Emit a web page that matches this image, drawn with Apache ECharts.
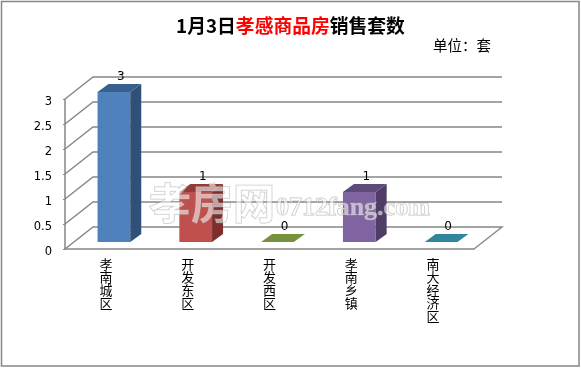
<!DOCTYPE html>
<html>
<head>
<meta charset="utf-8">
<style>
  html, body { margin: 0; padding: 0; background: #fff; }
  #main { width: 581px; height: 368px; }
</style>
<script src="https://cdn.jsdelivr.net/npm/echarts@6/dist/echarts.min.js"></script>
</head>
<body>
<div id="main"></div>
<script>
const categories = ['孝南城区', '开发东区', '开发西区', '孝南乡镇', '南大经济区'];
const salesCounts = [3, 1, 0, 1, 0];
const wallTicks = [0, 0.5, 1, 1.5, 2, 2.5, 3];

const frontColors = ['#4f81bd', '#c0504d', '#9bbb59', '#8064a2', '#4bacc6'];
const sideColors = ['#2f5078', '#7d2f2d', '#5f7530', '#4f3d68', '#276a7c'];
const topColors = ['#38608f', '#933b38', '#76923c', '#5f4a7c', '#31859c'];

const lineGrey = '#868686';
const cjkFont = '"Noto Sans CJK SC", sans-serif';
// 3D look: how far the back wall and the bars sit from the front plane
const wallDepth = [28, -22];
const barInset = [8, -7];
const barDepth = [11, -8];

const myChart = echarts.init(document.getElementById('main'));

const renderWall = (params, api) => {
    const cs = params.coordSys;
    const y = api.coord([0, api.value(1)])[1];
    const backY = y + wallDepth[1];
    const left = cs.x;
    const right = cs.x + cs.width;
    const points = [[left, y], [left + wallDepth[0], backY], [right + wallDepth[0], backY]];
    if (api.value(1) === 0) {
        points.push([right, y]);
    }
    return {
        type: 'polyline',
        shape: { points: points },
        style: { stroke: lineGrey, lineWidth: 1.4, fill: null }
    };
};

const renderBar = (params, api) => {
    const idx = params.dataIndex;
    const width = api.size([1, 0])[0] * 0.4;
    const base = api.coord([api.value(0), 0]);
    const head = api.coord([api.value(0), api.value(1)]);
    const x0 = base[0] - width / 2 + barInset[0];
    const x1 = x0 + width;
    const yTop = head[1] + barInset[1];
    const yBottom = base[1] + barInset[1];
    const dx = barDepth[0];
    const dy = barDepth[1];
    return {
        type: 'group',
        children: [
            {
                type: 'rect',
                shape: { x: x0, y: yTop, width: width, height: yBottom - yTop },
                style: { fill: frontColors[idx] }
            },
            {
                type: 'polygon',
                shape: { points: [[x1, yTop], [x1 + dx, yTop + dy], [x1 + dx, yBottom + dy], [x1, yBottom]] },
                style: { fill: sideColors[idx] }
            },
            {
                type: 'polygon',
                shape: { points: [[x0, yTop], [x0 + dx, yTop + dy], [x1 + dx, yTop + dy], [x1, yTop]] },
                style: { fill: topColors[idx] }
            },
            {
                type: 'text',
                style: {
                    text: String(api.value(1)),
                    x: (x0 + x1) / 2 + 7,
                    y: yTop - 15,
                    align: 'center',
                    verticalAlign: 'middle',
                    fill: '#000',
                    font: '12px "DejaVu Sans", sans-serif'
                }
            }
        ]
    };
};

const option = {
    backgroundColor: '#fff',
    animation: false,
    title: [
        {
            text: '{k|1月3日}{r|孝感商品房}{k|销售套数}',
            left: 'center',
            top: 11,
            textStyle: {
                rich: {
                    k: { fontFamily: cjkFont, fontSize: 18.8, fontWeight: 'bold', color: '#000' },
                    r: { fontFamily: cjkFont, fontSize: 18.8, fontWeight: 'bold', color: '#ff0000' }
                }
            }
        },
        {
            text: '单位：套',
            left: 428,
            top: 33,
            textStyle: { fontFamily: cjkFont, fontSize: 14.5, fontWeight: 'normal', color: '#000' }
        }
    ],
    grid: { left: 65, right: 107, top: 99, bottom: 119 },
    xAxis: {
        type: 'category',
        data: categories,
        axisLine: { lineStyle: { color: lineGrey, width: 1.5 } },
        axisTick: { length: 5, lineStyle: { color: lineGrey } },
        axisLabel: {
            interval: 0,
            margin: 9,
            color: '#000',
            fontFamily: cjkFont,
            fontSize: 13,
            lineHeight: 13,
            formatter: (name) => name.split('').join('\n')
        }
    },
    yAxis: {
        type: 'value',
        min: 0,
        max: 3,
        interval: 0.5,
        axisLine: { show: true, lineStyle: { color: lineGrey, width: 1.5 } },
        axisTick: { show: true, length: 2, lineStyle: { color: lineGrey } },
        splitLine: { show: false },
        axisLabel: {
            margin: 13,
            verticalAlign: 'top',
            lineHeight: 6,
            color: '#000',
            fontFamily: '"DejaVu Sans", sans-serif',
            fontSize: 11.5
        }
    },
    series: [
        {
            type: 'custom',
            coordinateSystem: 'cartesian2d',
            renderItem: renderWall,
            data: wallTicks.map((v) => [0, v]),
            z: 1
        },
        {
            type: 'custom',
            coordinateSystem: 'cartesian2d',
            renderItem: renderBar,
            data: salesCounts.map((v, i) => [i, v]),
            z: 2
        }
    ],
    graphic: [
        {
            type: 'rect',
            shape: { x: 1.5, y: 1.5, width: 577.5, height: 364.5 },
            style: { fill: 'none', stroke: lineGrey, lineWidth: 1.5 },
            z: 10
        },
        {
            type: 'text',
            x: 149,
            y: 182,
            style: {
                text: '孝房网',
                fill: 'rgba(255,255,255,0.55)',
                stroke: 'rgba(150,150,150,0.55)',
                lineWidth: 1,
                font: 'bold 42px ' + cjkFont
            },
            z: 10
        },
        {
            type: 'text',
            x: 276,
            y: 195,
            style: {
                text: '0712fang.com',
                fill: 'rgba(255,255,255,0.55)',
                stroke: 'rgba(150,150,150,0.6)',
                lineWidth: 1,
                font: 'bold 26px "Liberation Serif", serif'
            },
            z: 10
        }
    ]
};

myChart.setOption(option);
</script>
</body>
</html>
